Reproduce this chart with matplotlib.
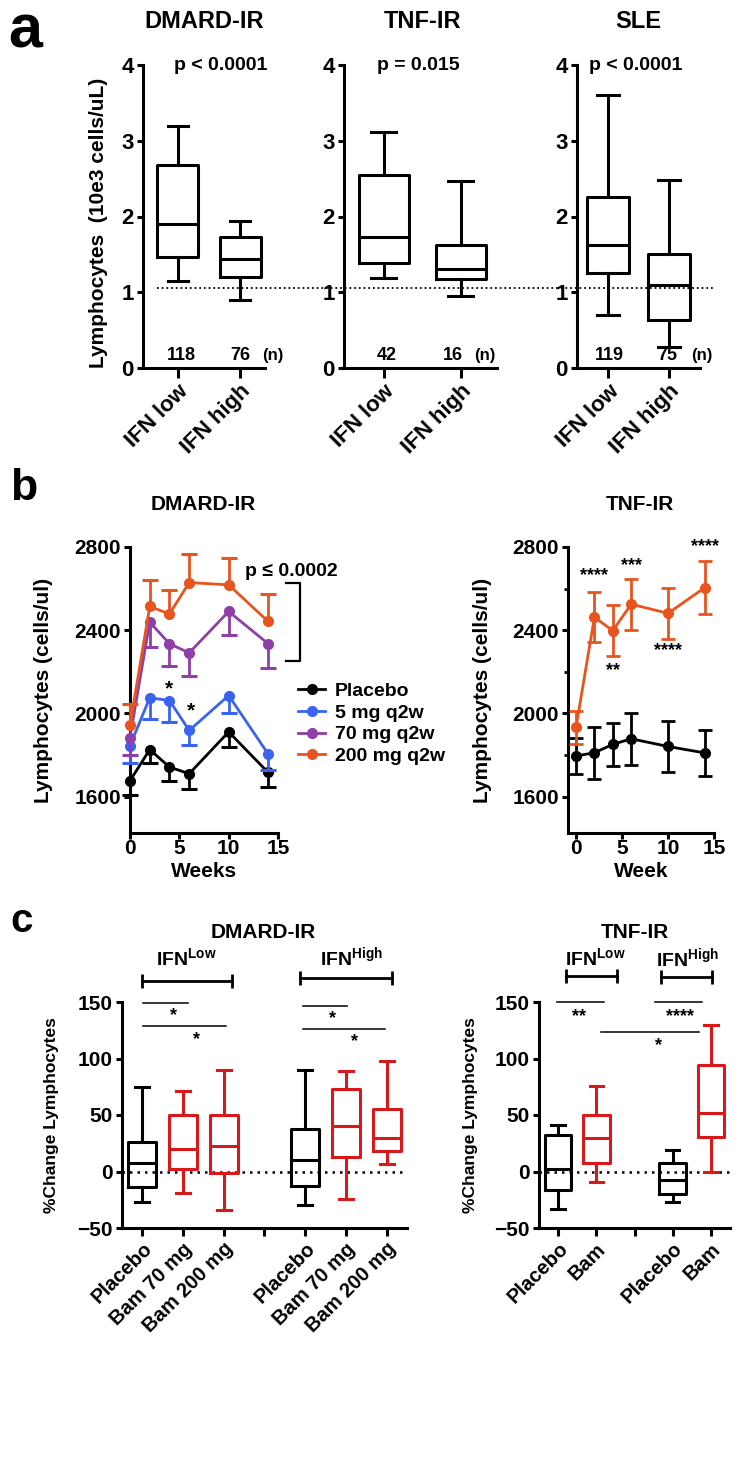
import matplotlib.pyplot as plt
from matplotlib.lines import Line2D
from matplotlib.transforms import blended_transform_factory

plt.rcParams['font.family'] = ['Liberation Sans', 'DejaVu Sans']
plt.rcParams['font.weight'] = 'bold'
plt.rcParams['axes.labelweight'] = 'bold'
plt.rcParams['mathtext.fontset'] = 'custom'
plt.rcParams['mathtext.bf'] = 'Liberation Sans:bold'
plt.rcParams['mathtext.rm'] = 'Liberation Sans:bold'

# ---------------- data ----------------
# panel a : box stats (whislo, q1, med, q3, whishi)
a_titles = ['DMARD-IR', 'TNF-IR', 'SLE']
a_cats = ['IFN low', 'IFN high']
a_pvals = ['p < 0.0001', 'p = 0.015', 'p < 0.0001']
a_n = [['118', '76'], ['42', '16'], ['119', '75']]
a_dmard = [(1.15, 1.46, 1.90, 2.68, 3.20), (0.90, 1.20, 1.44, 1.73, 1.94)]
a_tnf = [(1.19, 1.38, 1.73, 2.55, 3.11), (0.95, 1.17, 1.31, 1.63, 2.47)]
a_sle = [(0.70, 1.25, 1.63, 2.26, 3.60), (0.28, 0.63, 1.09, 1.51, 2.48)]
a_lower_limit = 1.06

# panel b : mean lymphocytes (cells/ul) by week
weeks = [0, 2, 4, 6, 10, 14]
b_series = ['Placebo', '5 mg q2w', '70 mg q2w', '200 mg q2w']
dm_placebo = [1676, 1826, 1742, 1710, 1911, 1716]
dm_placebo_err = [66, 65, 69, 73, 72, 68]
dm_5mg = [1845, 2075, 2062, 1918, 2086, 1805]
dm_5mg_err = [83, 100, 102, 68, 83, 75]
dm_70mg = [1884, 2439, 2335, 2291, 2490, 2335]
dm_70mg_err = [84, 121, 108, 112, 115, 119]
dm_200mg = [1944, 2514, 2478, 2629, 2618, 2442]
dm_200mg_err = [99, 128, 116, 136, 131, 133]
tnf_placebo = [1795, 1811, 1851, 1878, 1841, 1810]
tnf_placebo_err = [88, 126, 105, 125, 123, 110]
tnf_200mg = [1933, 2462, 2398, 2525, 2481, 2605]
tnf_200mg_err = [80, 120, 122, 123, 123, 128]
tnf_stars = ['****', '**', '***', '****', '****']

# panel c : % change, box stats (whislo, q1, med, q3, whishi)
c_dmard_labels = ['Placebo', 'Bam 70 mg', 'Bam 200 mg', '', 'Placebo', 'Bam 70 mg', 'Bam 200 mg']
c_dmard = [(-27.1, -13.5, 7.7, 26.2, 74.8), (-19.4, 2.6, 20.3, 50.1, 71.6),
           (-33.8, -1.5, 23.0, 50.1, 89.8), (-29.4, -13.0, 10.6, 37.7, 89.8),
           (-24.1, 12.6, 40.0, 73.0, 89.2), (6.2, 18.2, 29.7, 55.4, 97.4)]
c_dmard_groups = ['Placebo', 'Bam', 'Bam', 'Placebo', 'Bam', 'Bam']
c_tnf_labels = ['Placebo', 'Bam', '', 'Placebo', 'Bam']
c_tnf = [(-33.0, -16.8, 1.8, 32.7, 41.5), (-9.4, 7.7, 29.7, 50.4, 75.4),
         (-27.1, -19.7, -7.1, 7.1, 18.9), (-0.3, 30.3, 51.8, 93.9, 129.9)]
c_tnf_groups = ['Placebo', 'Bam', 'Placebo', 'Bam']

ORANGE = '#E8541E'
PURPLE = '#8E3FA8'
BLUE = '#3A63F2'
RED = '#D7191C'

W, H = 742, 1463
fig = plt.figure(figsize=(W / 100, H / 100), dpi=100)


def px_axes(x0, y0, x1, y1):
    ax = fig.add_axes([x0 / W, 1 - y1 / H, (x1 - x0) / W, (y1 - y0) / H])
    ax.patch.set_visible(False)
    for s in ['top', 'right']:
        ax.spines[s].set_visible(False)
    for s in ['left', 'bottom']:
        ax.spines[s].set_linewidth(2.2)
    ax.tick_params(width=2.2, length=4.5, pad=2)
    return ax


def boxes(ax, stats, positions, width, colors, lw=2.2):
    for st, pos, col in zip(stats, positions, colors):
        d = dict(whislo=st[0], q1=st[1], med=st[2], q3=st[3], whishi=st[4], fliers=[])
        p = dict(color=col, linewidth=lw)
        ax.bxp([d], positions=[pos], widths=width, showfliers=False,
               boxprops=p, medianprops=p, whiskerprops=p, capprops=p,
               manage_ticks=False)


def ftext(xpx, ypx, s, **kw):
    fig.text(xpx / W, 1 - ypx / H, s, **kw)


# ---------------- panel a ----------------
ftext(8, 48, 'a', fontsize=44, va='baseline')
a_axes = [px_axes(143, 65, 265, 368), px_axes(344, 65, 497, 368), px_axes(577, 65, 700, 368)]
a_data = [a_dmard, a_tnf, a_sle]
a_xlims = [(0.44, 2.4), (0.48, 2.47), (0.49, 2.51)]
a_widths = [0.66, 0.65, 0.7]
a_title_x = [204, 423, 638]
a_p_x = [1.69, 1.45, 1.46]
a_n_x = [[1.05, 2.0, 2.53], [1.03, 1.9, 2.31], [1.02, 1.97, 2.54]]
for i, ax in enumerate(a_axes):
    boxes(ax, a_data[i], [1, 2], a_widths[i], ['k', 'k'])
    ax.set_xlim(*a_xlims[i])
    ax.set_ylim(0, 4)
    ax.set_yticks([0, 1, 2, 3, 4])
    ax.set_xticks([1, 2])
    ax.set_xticklabels(a_cats, rotation=45, ha='right', va='top',
                       rotation_mode='anchor', fontsize=16)
    ax.tick_params(axis='y', labelsize=16)
    ax.tick_params(axis='x', length=7)
    ax.text(a_p_x[i], 4.0, a_pvals[i], ha='center', va='center', fontsize=14)
    nx = a_n_x[i]
    ax.text(nx[0], 0.17, a_n[i][0], ha='center', va='center', fontsize=13)
    ax.text(nx[1], 0.17, a_n[i][1], ha='center', va='center', fontsize=13)
    ax.text(nx[2], 0.17, '(n)', ha='center', va='center', fontsize=12, clip_on=False)
    ftext(a_title_x[i], 22, a_titles[i], ha='center', va='center', fontsize=17)
a_axes[0].set_ylabel('Lymphocytes  (10e3 cells/uL)', fontsize=15)
a_axes[0].yaxis.set_label_coords(-0.29, 0.48)
tr = blended_transform_factory(fig.transFigure, a_axes[0].transData)
fig.add_artist(Line2D([157 / W, 715 / W], [a_lower_limit, a_lower_limit], transform=tr,
                      color='k', lw=1.3, ls=(0, (1, 1.6))))

# ---------------- panel b ----------------
ftext(10, 500, 'b', fontsize=32, va='baseline')
ax_b1 = px_axes(130, 547, 278, 833)
ax_b2 = px_axes(568, 547, 714, 833)


def one_sided(ax, x, y, err, sign, color, z):
    ends = [v + sign * e for v, e in zip(y, err)]
    ax.vlines(x, y, ends, color=color, lw=2, zorder=z, clip_on=False)
    ax.plot(x, ends, ls='none', marker='_', ms=11, mew=2.2, color=color, zorder=z, clip_on=False)


dm_sets = [(dm_placebo, dm_placebo_err, -1, 'k'), (dm_5mg, dm_5mg_err, -1, BLUE),
           (dm_70mg, dm_70mg_err, -1, PURPLE), (dm_200mg, dm_200mg_err, 1, ORANGE)]
for k, (vals, err, sign, col) in enumerate(dm_sets):
    one_sided(ax_b1, weeks, vals, err, sign, col, 2 + k)
    ax_b1.plot(weeks, vals, color=col, lw=2, marker='o', ms=7, label=b_series[k],
               zorder=2.5 + k, clip_on=False)

for ax in [ax_b1, ax_b2]:
    ax.set_ylim(1425, 2800)
    ax.set_yticks([1600, 2000, 2400, 2800])
    ax.set_xticks([0, 5, 10, 15])
    ax.tick_params(labelsize=15)
    ax.tick_params(axis='x', length=4, pad=0.5)
    ax.set_ylabel('Lymphocytes (cells/ul)', fontsize=15)
    ax.yaxis.set_label_coords(-0.52, 0.5)
    ax.xaxis.set_label_coords(0.5, -0.1)

ax_b1.set_xlim(0, 15)
ax_b1.set_xlabel('Weeks', fontsize=15)
ax_b1.text(4, 2118, '*', ha='center', va='center', fontsize=15)
ax_b1.text(6.2, 2012, '*', ha='center', va='center', fontsize=15)
ax_b1.plot([15.8, 17.2, 17.2, 15.8], [2628, 2628, 2254, 2254], color='k', lw=1.6, clip_on=False)
ax_b1.text(16.3, 2680, 'p \u2264 0.0002', ha='center', va='center', fontsize=14, clip_on=False)
ftext(203, 505, 'DMARD-IR', ha='center', va='center', fontsize=15)
ax_b1.legend(loc='upper left', bbox_to_anchor=(298 / W, 1 - 682 / H),
             bbox_transform=fig.transFigure, frameon=False, fontsize=14,
             handlelength=1.4, handletextpad=0.5, labelspacing=0.22,
             borderpad=0, borderaxespad=0)

ax_b2.errorbar(weeks, tnf_placebo, yerr=tnf_placebo_err, color='k', lw=2, marker='o', ms=7,
               capsize=5, capthick=2, elinewidth=2, clip_on=False, zorder=3)
ax_b2.errorbar(weeks, tnf_200mg, yerr=tnf_200mg_err, color=ORANGE, lw=2, marker='o', ms=7,
               capsize=5, capthick=2, elinewidth=2, clip_on=False, zorder=4)
ax_b2.set_xlim(-0.87, 15)
ax_b2.set_yticks([1800, 2200, 2600], minor=True)
ax_b2.tick_params(axis='y', which='minor', width=2, length=3)
ax_b2.set_xlabel('Week', fontsize=15)
star_pos = [(2, 2662), (4, 2205), (6, 2710), (10, 2300), (14, 2800)]
for (sx, sy), s in zip(star_pos, tnf_stars):
    ax_b2.text(sx, sy, s, ha='center', va='center', fontsize=13, clip_on=False)
ftext(640, 505, 'TNF-IR', ha='center', va='center', fontsize=15)

# ---------------- panel c ----------------
ftext(10, 932, 'c', fontsize=29, va='baseline')
ax_c1 = px_axes(122, 1002, 407, 1228)
ax_c2 = px_axes(539, 1002, 730, 1228)

col_of = {'Placebo': 'k', 'Bam': RED}
boxes(ax_c1, c_dmard, [1, 2, 3, 5, 6, 7], 0.69, [col_of[g] for g in c_dmard_groups])
boxes(ax_c2, c_tnf, [1, 2, 4, 5], 0.7, [col_of[g] for g in c_tnf_groups])

for ax, labels in [(ax_c1, c_dmard_labels), (ax_c2, c_tnf_labels)]:
    ax.set_xlim(0.5, len(labels) + 0.5)
    ax.set_ylim(-50, 150)
    ax.set_yticks([-50, 0, 50, 100, 150])
    ax.set_xticks(range(1, len(labels) + 1))
    ax.set_xticklabels(labels, rotation=45, ha='right', va='top',
                       rotation_mode='anchor', fontsize=14.5)
    ax.tick_params(axis='y', labelsize=15)
    ax.tick_params(axis='x', length=6)
    ax.axhline(0, color='k', lw=1.8, ls=(0, (1, 2)), zorder=0)
    ax.set_ylabel('%Change Lymphocytes', fontsize=12.5)


def sig(ax, x1, x2, y, tx, ty, s):
    ax.plot([x1, x2], [y, y], color='k', lw=1.1, clip_on=False)
    ax.text(tx, ty, s, ha='center', va='center', fontsize=13, clip_on=False)


def bracket(ax, x1, x2, y, label, lx, ly):
    ax.plot([x1, x2], [y, y], color='k', lw=2, marker='|', ms=10, mew=2, clip_on=False)
    ax.text(lx, ly, label, ha='center', va='center', fontsize=14, clip_on=False)


ifn_low = r'$\mathbf{IFN}^{\mathbf{Low}}$'
ifn_high = r'$\mathbf{IFN}^{\mathbf{High}}$'

sig(ax_c1, 1.02, 2.13, 149, 1.76, 138, '*')
sig(ax_c1, 1.02, 3.06, 129, 2.32, 117, '*')
sig(ax_c1, 4.95, 6.02, 146.6, 5.68, 135, '*')
sig(ax_c1, 4.95, 6.96, 126.3, 6.22, 115, '*')
bracket(ax_c1, 0.98, 3.2, 168.7, ifn_low, 2.08, 188)
bracket(ax_c1, 4.87, 7.13, 171, ifn_high, 6.13, 189)
ax_c1.yaxis.set_label_coords(-0.22, 0.5)
ftext(263, 933, 'DMARD-IR', ha='center', va='center', fontsize=15)

sig(ax_c2, 0.98, 2.21, 150, 1.56, 137, '**')
sig(ax_c2, 3.54, 4.77, 150, 4.2, 137, '****')
sig(ax_c2, 2.13, 4.68, 123.7, 3.62, 111, '*')
bracket(ax_c2, 1.21, 2.54, 173, ifn_low, 1.98, 188)
bracket(ax_c2, 3.69, 5.02, 172, ifn_high, 4.4, 188)
ax_c2.yaxis.set_label_coords(-0.32, 0.5)
ftext(635, 932, 'TNF-IR', ha='center', va='center', fontsize=15)

fig.savefig('out.png', dpi=100)
